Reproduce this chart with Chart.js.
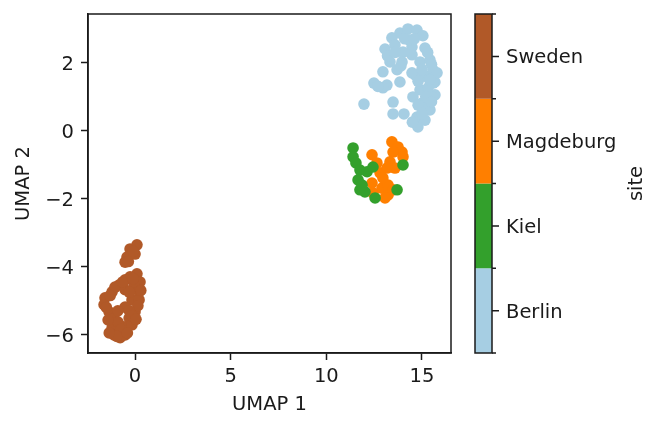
<!DOCTYPE html>
<html>
<head>
<meta charset="utf-8">
<script src="https://cdn.jsdelivr.net/npm/chart.js@4"></script>
<style>
  html, body { margin: 0; padding: 0; background: #fff; }
  #wrap { width: 663px; height: 432px; }
</style>
</head>
<body>
<div id="wrap"><canvas id="c" width="663" height="432"></canvas></div>
<script>
// UMAP-Einbettung, Punkte pro Standort
const sites = ['Berlin', 'Kiel', 'Magdeburg', 'Sweden'];
const siteColors = ['#a6cee3', '#33a02c', '#ff7f00', '#b15928'];

const berlin = [
  [11.97, 0.78], [12.49, 1.40], [13.85, 1.43], [13.49, 0.49], [14.06, 0.49],
  [13.07, 2.40], [13.43, 2.73], [13.85, 2.87], [14.27, 2.99], [14.74, 2.96],
  [15.05, 2.79], [15.16, 2.43], [14.48, 2.46], [14.01, 2.31], [13.33, 2.02],
  [13.96, 2.02], [12.96, 1.73], [14.48, 2.23], [14.90, 2.02], [15.42, 2.08],
  [15.58, 1.79], [14.64, 1.64], [15.68, 1.43], [14.90, 1.20], [15.68, 1.05],
  [14.53, 0.99], [15.00, 0.81], [15.42, 0.61], [14.74, 0.40], [15.16, 0.31],
  [14.79, 0.11], [13.17, 1.34], [13.49, 0.84], [13.70, 1.79], [12.96, 1.26],
  [14.48, 1.70], [15.79, 1.70], [15.58, 1.40], [15.53, 0.99], [15.26, 0.61],
  [15.32, 1.26], [15.16, 1.61], [14.32, 2.67], [13.59, 2.52],
  [13.20, 2.20], [13.60, 2.30], [14.10, 2.70], [14.60, 2.70], [15.30, 2.30],
  [15.50, 1.95], [15.00, 1.80], [14.80, 1.45], [15.40, 1.50], [15.20, 1.00],
  [14.80, 0.75], [15.50, 0.85], [14.50, 0.25], [15.00, 0.50], [12.70, 1.30],
  [13.90, 1.90],
];
const kiel = [
  [11.40, -0.51], [11.40, -0.77], [11.55, -0.95], [11.76, -1.16], [12.13, -1.21],
  [12.44, -1.07], [11.66, -1.45], [11.76, -1.74], [12.02, -1.80], [12.55, -1.98],
  [13.70, -1.74], [14.01, -1.01], [11.87, -1.60],
];
const magdeburg = [
  [12.39, -0.71], [12.65, -0.95], [12.81, -1.24], [12.39, -1.54], [12.44, -1.83],
  [12.91, -1.69], [13.23, -1.60], [13.23, -1.89], [13.07, -1.98], [13.43, -0.33],
  [13.75, -0.48], [13.96, -0.63], [13.49, -0.63], [13.33, -0.92], [13.59, -1.10],
  [13.17, -1.10], [14.01, -0.77], [12.96, -1.39], [13.49, -1.74],
];
const sweden = [
  [0.10, -3.36], [-0.26, -3.48], [-0.42, -3.72], [0.00, -3.63], [-0.52, -3.87],
  [0.10, -4.21], [-0.26, -4.30], [-0.52, -4.39], [-0.84, -4.54], [0.26, -4.45],
  [-0.05, -4.54], [-1.20, -4.74], [-1.05, -4.60], [-0.52, -4.68], [0.21, -4.74],
  [-1.57, -4.92], [-1.62, -5.12], [-0.16, -4.98], [0.21, -4.98], [-1.36, -5.33],
  [-0.52, -5.19], [0.00, -5.33], [-1.10, -5.51], [-0.31, -5.51], [-1.20, -5.80],
  [-0.58, -5.77], [-0.16, -5.71], [-1.10, -6.01], [-0.52, -6.01], [-0.78, -6.09],
  [-0.89, -5.63], [-1.41, -5.57],
  [-0.10, -3.55], [-0.35, -3.85], [-0.65, -4.45], [-0.10, -4.35], [0.30, -4.70],
  [-0.30, -4.75], [-1.30, -4.85], [0.15, -5.15], [-0.30, -5.30], [-0.90, -5.30],
  [-0.75, -5.85], [-0.95, -6.05], [-0.40, -5.95], [-1.35, -5.95], [-0.15, -5.45],
  [-1.50, -5.20], [0.05, -5.55],
];
const siteData = [berlin, kiel, magdeburg, sweden];

const xTicks = [0, 5, 10, 15];
const yTicks = [-6, -4, -2, 0, 2];
const xLabel = 'UMAP 1';
const yLabel = 'UMAP 2';
const cbarLabel = 'site';

const FONT = 'DejaVu Sans';
const FS = 19.5;
const INK = '#1a1a1a';

const fmt = (v) => (v < 0 ? '\u2212' + Math.abs(v) : String(v));

// Rahmen oben/rechts + Farbskala rechts
const frameAndColorbar = {
  id: 'frameAndColorbar',
  afterDraw(chart) {
    const { ctx, chartArea: a } = chart;
    ctx.save();
    ctx.strokeStyle = INK;
    ctx.lineWidth = 1.5;
    ctx.strokeRect(a.left, a.top, a.right - a.left, a.bottom - a.top);

    const x0 = 475, w = 17;
    const top = a.top, bottom = a.bottom;
    const seg = (bottom - top) / sites.length;
    // Berlin unten, Sweden oben
    sites.forEach((s, i) => {
      const yTop = bottom - (i + 1) * seg;
      ctx.fillStyle = siteColors[i];
      ctx.fillRect(x0, yTop, w, seg);
    });
    ctx.strokeRect(x0, top, w, bottom - top);

    ctx.beginPath();
    for (let i = 0; i <= sites.length; i++) {
      const y = bottom - i * seg;
      ctx.moveTo(x0 + w, y);
      ctx.lineTo(x0 + w + 4, y);
    }
    sites.forEach((s, i) => {
      const y = bottom - (i + 0.5) * seg;
      ctx.moveTo(x0 + w, y);
      ctx.lineTo(x0 + w + 7, y);
    });
    ctx.stroke();

    ctx.fillStyle = INK;
    ctx.font = `${FS}px "${FONT}"`;
    ctx.textAlign = 'left';
    ctx.textBaseline = 'middle';
    sites.forEach((s, i) => {
      const y = bottom - (i + 0.5) * seg;
      ctx.fillText(s, 506, y + 2);
    });

    ctx.translate(637, (top + bottom) / 2);
    ctx.rotate(-Math.PI / 2);
    ctx.textAlign = 'center';
    ctx.fillText(cbarLabel, 0, 0);
    ctx.restore();
  },
};

const axisCommon = {
  border: { display: true, color: INK, width: 1.5 },
  grid: {
    drawOnChartArea: false,
    drawTicks: true,
    tickLength: 7,
    tickColor: INK,
    tickWidth: 1.5,
  },
  ticks: {
    color: INK,
    font: { family: FONT, size: FS },
    padding: 5,
    callback: (v) => fmt(v),
  },
};

new Chart(document.getElementById('c'), {
  type: 'scatter',
  data: {
    datasets: sites.map((s, i) => ({
      label: s,
      data: siteData[i].map(([x, y]) => ({ x, y })),
      backgroundColor: siteColors[i],
      borderWidth: 0,
      pointRadius: 5.8,
      pointHoverRadius: 5.8,
    })),
  },
  options: {
    responsive: false,
    animation: false,
    events: [],
    layout: { padding: { top: 14, right: 212, left: 0, bottom: 0 } },
    plugins: { legend: { display: false }, tooltip: { enabled: false } },
    scales: {
      x: {
        ...axisCommon,
        type: 'linear',
        min: -2.46,
        max: 16.52,
        afterBuildTicks: (sc) => { sc.ticks = xTicks.map((v) => ({ value: v })); },
        afterFit: (sc) => { sc.height = 79; sc.paddingLeft = 0; sc.paddingRight = 0; },
        title: {
          display: true,
          text: xLabel,
          color: INK,
          font: { family: FONT, size: FS },
          padding: { top: 0, bottom: 15 },
        },
      },
      y: {
        ...axisCommon,
        type: 'linear',
        min: -6.54,
        max: 3.43,
        afterBuildTicks: (sc) => { sc.ticks = yTicks.map((v) => ({ value: v })); },
        afterFit: (sc) => { sc.width = 88; sc.paddingTop = 0; sc.paddingBottom = 0; },
        ticks: { ...axisCommon.ticks, padding: 7, labelOffset: 2 },
        title: {
          display: true,
          text: yLabel,
          color: INK,
          font: { family: FONT, size: FS },
          padding: { top: 12, bottom: 0 },
        },
      },
    },
  },
  plugins: [frameAndColorbar],
});
</script>
</body>
</html>
